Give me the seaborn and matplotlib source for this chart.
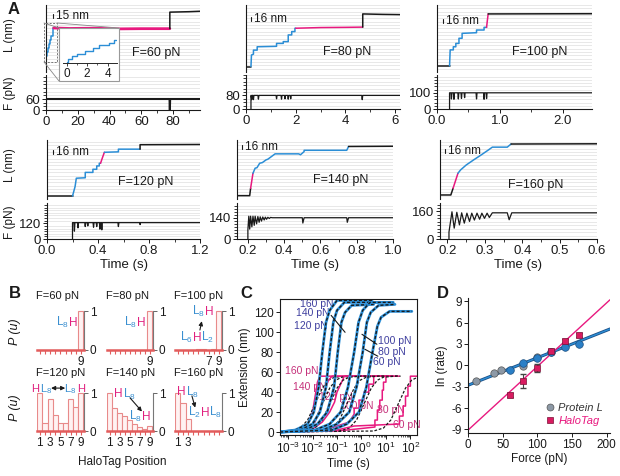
import matplotlib
matplotlib.use("Agg")
import numpy as np
import matplotlib.pyplot as plt
from matplotlib.ticker import MultipleLocator, LogLocator, NullFormatter, FormatStrFormatter
from matplotlib.patches import Rectangle
from matplotlib.lines import Line2D
from matplotlib.offsetbox import TextArea, HPacker, AnnotationBbox
import seaborn as sns

sns.set_style("ticks")
plt.rcParams["font.family"] = ["Liberation Sans", "DejaVu Sans"]
plt.rcParams["mathtext.fontset"] = "custom"
plt.rcParams["mathtext.rm"] = "Liberation Sans"
plt.rcParams["mathtext.it"] = "Liberation Sans:italic"
plt.rcParams["axes.unicode_minus"] = False

BLUE = "#2b8ed6"
PINK = "#e8197f"
INK = "#1a1a1a"
GRID = "#e4e4e4"
COL = {"k": INK, "b": BLUE, "m": PINK}

# ---------------- A: extension traces, (colour, time s, length nm) ----------------
tr60 = [
    ("k", [0, 0.05], [54, 54]),
    ("b", [0.05, 0.15, 0.15, 0.5, 0.5, 1.0, 1.0, 1.8, 1.8, 2.6, 2.6, 3.2, 3.2, 4.1, 4.1, 4.6, 4.6, 4.85],
          [54, 54, 72, 72, 90, 90, 108, 108, 126, 126, 144, 144, 162, 162, 180, 180, 197, 197]),
    ("m", [4.85, 15, 30, 45, 60, 78], [197, 195, 196, 193, 194, 194]),
    ("k", [78, 78, 90, 97], [194, 268, 270, 272]),
]
tr80 = [
    ("k", [0, 0.2], [24, 24]),
    ("b", [0.2, 0.22, 0.3, 0.3, 0.45, 0.45, 1.23, 1.23, 1.5, 1.5, 1.7, 1.7, 1.84, 1.84, 1.97, 1.97, 2.0],
          [24, 76, 80, 98, 98, 113, 115, 128, 128, 136, 136, 166, 166, 181, 181, 196, 196]),
    ("m", [2.0, 3.0, 4.0, 4.7], [196, 199, 200, 201]),
    ("k", [4.7, 4.7, 5.5, 6.2], [201, 260, 258, 257]),
]
tr100 = [
    ("k", [0, 0.2], [27, 27]),
    ("b", [0.2, 0.21, 0.26, 0.26, 0.3, 0.3, 0.35, 0.35, 0.4, 0.4, 0.63, 0.63, 0.75, 0.75, 0.79],
          [27, 99, 99, 113, 113, 128, 128, 151, 151, 173, 176, 188, 188, 200, 200]),
    ("m", [0.79, 0.8, 0.815], [200, 225, 260]),
    ("k", [0.815, 2.47], [260, 261]),
]
tr120 = [
    ("k", [0, 0.2], [13, 13]),
    ("b", [0.2, 0.22, 0.23, 0.3, 0.3, 0.36, 0.36, 0.39, 0.39, 0.41, 0.41, 0.42],
          [13, 55, 93, 95, 119, 119, 133, 133, 148, 148, 160, 160]),
    ("m", [0.42, 0.435, 0.45], [160, 185, 209]),
    ("b", [0.45, 0.56, 0.56, 0.73], [209, 211, 223, 223]),
    ("k", [0.73, 0.73, 1.2], [223, 243, 244]),
]
tr140 = [
    ("k", [0.14, 0.21, 0.215], [15, 15, 48]),
    ("m", [0.215, 0.228], [48, 115]),
    ("b", [0.228, 0.24, 0.25, 0.265, 0.28, 0.3, 0.31, 0.35, 0.48, 0.49, 0.51, 0.51, 0.745, 0.755],
          [115, 138, 140, 160, 163, 175, 178, 202, 202, 198, 212, 218, 218, 235]),
    ("k", [0.755, 1.0], [235, 236]),
]
tr160 = [
    ("k", [0.18, 0.209, 0.215], [18, 18, 48]),
    ("m", [0.215, 0.228], [48, 115]),
    ("b", [0.228, 0.235, 0.25, 0.27, 0.29, 0.31, 0.32, 0.36, 0.37], [115, 130, 152, 175, 197, 220, 232, 232, 246]),
    ("k", [0.37, 0.6], [246, 247]),
]

# force traces: onset, plateau, dips (time, depth)
f60_on, f60_level, f60_dip_t, f60_dip_v = 0, 60, [78], [0]
f80_on, f80_level = 0.2, 80
f80_dip_t = [0.23, 0.3, 0.5, 1.23, 1.43, 1.57, 1.7, 1.8, 4.68]
f80_dip_v = [55, 55, 58, 60, 58, 60, 58, 60, 55]
f100_on, f100_level = 0.2, 100
f100_dip_t = [0.23, 0.27, 0.34, 0.39, 0.44, 0.63, 0.75, 0.79]
f100_dip_v = [62, 60, 62, 65, 70, 62, 60, 64]
f120_on, f120_level = 0.2, 125
f120_dip_t = [0.215, 0.243, 0.3, 0.32, 0.365, 0.39, 0.415, 0.43, 0.56, 0.73]
f120_dip_v = [60, 85, 95, 100, 90, 95, 75, 70, 95, 110]
f140_t = [0.2, 0.2, 0.205, 0.21, 0.215, 0.222, 0.228, 0.235, 0.24, 0.248, 0.255, 0.262, 0.268, 0.275,
          0.282, 0.29, 0.296, 0.303, 0.31, 0.318, 0.325, 0.335, 0.5, 0.503, 0.51, 0.745, 0.748, 0.755, 1.0]
f140_v = [0, 60, 150, 65, 150, 80, 150, 90, 150, 100, 148, 110, 146, 118, 145, 125, 144, 130, 143, 135,
          142, 140, 140, 105, 140, 140, 110, 140, 140]
f160_t = [0.204, 0.204, 0.212, 0.218, 0.225, 0.232, 0.238, 0.245, 0.252, 0.259, 0.265, 0.272, 0.279,
          0.286, 0.292, 0.299, 0.306, 0.312, 0.32, 0.36, 0.365, 0.372, 0.6]
f160_v = [0, 40, 158, 63, 155, 82, 152, 92, 150, 102, 150, 110, 150, 115, 150, 120, 150, 125, 152, 152,
          112, 152, 152]

# ---------------- B: HaloTag position probabilities ----------------
positions = [1, 2, 3, 4, 5, 6, 7, 8, 9]
p60 = [0, 0, 0, 0, 0, 0, 0, 0, 1.0]
p80 = [0, 0, 0, 0, 0, 0, 0, 0, 1.0]
p100 = [0, 0, 0, 0, 0.02, 0.02, 0, 0.03, 1.0]
p120 = [1.0, 0.2, 0.85, 0.42, 0.2, 0.2, 0.85, 0.63, 1.0]
p140 = [1.0, 0.6, 0.47, 0.39, 0.28, 0.19, 0.1, 0.04, 0.12]
p160 = [1.0, 0.73, 0.32, 0, 0, 0, 0, 0, 0]

# ---------------- C: averaged traces (log10 time, extension nm) ----------------
pl_logt = {
    160: [-3.33, -2.7, -2.2, -1.95, -1.75, -1.6, -1.45, -1.3, -1.0, 0.43],
    140: [-3.33, -2.5, -2.0, -1.7, -1.45, -1.3, -1.15, -1.0, -0.7, 0.67],
    120: [-3.33, -2.3, -1.8, -1.4, -1.12, -0.97, -0.82, -0.67, -0.4, 0.5],
    100: [-3.33, -1.9, -1.3, -0.85, -0.55, -0.3, -0.12, 0.05, 0.35, 1.3],
    80: [-3.33, -1.6, -1.0, -0.5, -0.2, 0.05, 0.22, 0.38, 0.7, 1.37],
    60: [-3.33, -1.2, -0.6, -0.1, 0.2, 0.45, 0.65, 0.8, 1.15, 2.06],
}
pl_ext = {
    160: [0, 2, 8, 20, 45, 80, 110, 122, 132, 132],
    140: [0, 2, 8, 20, 45, 80, 110, 122, 130, 130],
    120: [0, 2, 8, 20, 45, 80, 110, 120, 127, 128],
    100: [0, 2, 8, 20, 45, 80, 110, 122, 130, 130],
    80: [0, 2, 8, 20, 45, 80, 110, 120, 127, 128],
    60: [0, 2, 8, 20, 45, 80, 106, 115, 121, 121],
}
ht_fit_ext = [0, 1, 4, 12, 28, 44, 52, 55, 56, 56]
ht_fit_logt = {
    160: [-3.33, -2.9, -2.5, -2.2, -1.9, -1.6, -1.35, -1.1, -0.6, 1.5],
    140: [-3.33, -2.6, -2.2, -1.9, -1.6, -1.3, -1.05, -0.8, -0.3, 1.5],
    120: [-3.33, -2.3, -1.9, -1.6, -1.3, -1.0, -0.75, -0.5, 0.0, 1.5],
    100: [-3.33, -1.6, -1.2, -0.9, -0.6, -0.3, -0.05, 0.2, 0.7, 1.5],
    80: [-3.33, -0.9, -0.5, -0.2, 0.1, 0.4, 0.65, 0.9, 1.4, 1.6],
    60: [-3.33, 0.5, 0.9, 1.2, 1.5, 1.8, 2.05, 2.3, 2.33, 2.33],
}
ht_logt = {
    160: [-3.33, -2.5, -2.2, -2.0, -1.9, -1.8, -1.7, 0.85],
    140: [-3.33, -2.3, -1.9, -1.7, -1.55, -1.45, -1.35, -1.2, 1.0],
    120: [-3.33, -2.0, -1.6, -1.3, -1.1, -1.0, -0.85, -0.7, 1.2],
    100: [-3.33, -1.5, -1.0, -0.5, -0.3, -0.3, -0.1, -0.1, 0.1, 0.1, 0.3, 0.3, 0.5, 0.5, 1.3],
    80: [-3.33, -1.0, -0.2, 0.55, 0.55, 0.65, 0.65, 0.75, 0.75, 0.85, 0.85, 0.9, 0.9, 1.0, 1.0, 1.55],
    60: [-3.33, -1.0, -0.3, 1.55, 1.55, 1.7, 1.7, 1.8, 1.8, 1.9, 1.9, 2.0, 2.0, 2.33],
}
ht_ext = {
    160: [0, 2, 8, 20, 35, 50, 56, 56],
    140: [0, 3, 10, 22, 35, 45, 52, 56, 56],
    120: [0, 3, 10, 20, 30, 40, 48, 56, 56],
    100: [0, 2, 6, 10, 18, 24, 24, 32, 32, 40, 40, 48, 48, 56, 56],
    80: [0, 1, 3, 5, 12, 12, 22, 22, 32, 32, 42, 42, 50, 50, 56, 56],
    60: [0, 2, 6, 8, 16, 16, 26, 26, 36, 36, 46, 46, 56, 56],
}

# ---------------- D: ln(rate) vs force ----------------
protL_gray_f = [12, 38, 47, 80, 100, 120]
protL_gray_r = [-2.2, -1.1, -0.7, -0.1, 1.2, 1.9]
protL_f = [60, 80, 100, 120, 140, 160]
protL_r = [-0.6, 0.3, 1.0, 1.9, 2.6, 3.0]
halo_f = [60, 80, 100, 120, 140, 160]
halo_r = [-4.2, -2.2, -0.4, 2.0, 3.4, 4.3]
halo_err = [0.3, 1.0, 0.6, 0.3, 0.3, 0.3]
protL_fit_f, protL_fit_r = [0, 205], [-2.8, 5.1]
halo_fit_f, halo_fit_r = [0, 205], [-9.1, 9.2]

# ---------------- figure ----------------
W, H = 620, 476
fig = plt.figure(figsize=(6.2, 4.76), dpi=100)


def box(l, t, r, b):
    return [l / W, 1 - b / H, (r - l) / W, (b - t) / H]


def ftext(x, y, s, **kw):
    return fig.text(x / W, 1 - y / H, s, **kw)


def fline(xs, ys, **kw):
    fig.add_artist(Line2D([x / W for x in xs], [1 - y / H for y in ys], transform=fig.transFigure, **kw))


def line(ax, x, y, **kw):
    sns.lineplot(x=x, y=y, ax=ax, estimator=None, sort=False, errorbar=None, **kw)


def force_vertices(t_on, level, dip_t, dip_v, t_end, w):
    t, v = [t_on, t_on], [0, level]
    for td, vd in zip(dip_t, dip_v):
        t += [td - w, td, td + w]
        v += [level, vd, level]
    return t + [t_end], v + [level]


panelsA = [
    dict(tr=tr60, F=force_vertices(f60_on, f60_level, f60_dip_t, f60_dip_v, 97, 0.2), Fl=60,
         L=(46, 5, 200, 72), Fb=(46, 75, 200, 110), xlim=(0, 97), Lmax=300, Fmax=191,
         maj=20, mnr=10, fmt="%d", bar=(53, 16), lab="15 nm", ft=(132, 53), lw=1.5),
    dict(tr=tr80, F=force_vertices(f80_on, f80_level, f80_dip_t, f80_dip_v, 6.2, 0.02), Fl=80,
         L=(246, 5, 400, 72), Fb=(246, 75, 400, 109), xlim=(0, 6.2), Lmax=300, Fmax=200,
         maj=2, mnr=1, fmt="%d", bar=(251, 19), lab="16 nm", ft=(323, 52), lw=0.9),
    dict(tr=tr100, F=force_vertices(f100_on, f100_level, f100_dip_t, f100_dip_v, 2.47, 0.008), Fl=100,
         L=(437, 5, 592, 72), Fb=(437, 75, 592, 109), xlim=(0, 2.47), Lmax=300, Fmax=210,
         maj=1, mnr=0.5, fmt="%.1f", bar=(443, 21), lab="16 nm", ft=(512, 52), lw=0.9),
    dict(tr=tr120, F=force_vertices(f120_on, f120_level, f120_dip_t, f120_dip_v, 1.2, 0.004), Fl=120,
         L=(47, 140, 200, 199), Fb=(47, 203, 200, 239), xlim=(0, 1.2), Lmax=264, Fmax=275,
         maj=0.4, mnr=0.2, fmt="%.1f", bar=(53, 152), lab="16 nm", ft=(118, 182), lw=0.9),
    dict(tr=tr140, F=(f140_t, f140_v), Fl=140,
         L=(237, 140, 393, 199), Fb=(237, 203, 393, 239), xlim=(0.14, 1.0), Lmax=264, Fmax=237,
         maj=0.2, mnr=0.1, fmt="%.1f", bar=(242, 147), lab="16 nm", ft=(313, 180), lw=0.9),
    dict(tr=tr160, F=(f160_t, f160_v), Fl=160,
         L=(440, 140, 597, 199), Fb=(440, 203, 597, 239), xlim=(0.18, 0.6), Lmax=264, Fmax=209,
         maj=0.1, mnr=0.05, fmt="%.1f", bar=(445, 151), lab="16 nm", ft=(508, 185), lw=0.9),
]

for i, p in enumerate(panelsA):
    axL = fig.add_axes(box(*p["L"]))
    for c, t, L in p["tr"]:
        line(axL, t, L, color=COL[c], lw=2.0 if (i == 0 and c == "m") else 1.1)
    axL.set_xlim(*p["xlim"])
    axL.set_ylim(0, p["Lmax"])
    axL.set_yticks([])
    axL.set_xticks([])
    axL.yaxis.set_minor_locator(MultipleLocator(15))
    axL.tick_params(which="both", left=False, bottom=False)
    axL.grid(which="minor", axis="y", color=GRID, lw=0.6)
    axL.set_axisbelow(True)
    for s in ["top", "right", "bottom"]:
        axL.spines[s].set_visible(False)
    axL.spines["left"].set_color(INK)
    axL.spines["left"].set_linewidth(0.8)

    axF = fig.add_axes(box(*p["Fb"]))
    line(axF, p["F"][0], p["F"][1], color=INK, lw=p["lw"])
    axF.set_xlim(*p["xlim"])
    axF.set_ylim(0, p["Fmax"])
    axF.set_yticks([0, p["Fl"]])
    axF.yaxis.set_minor_locator(MultipleLocator(20))
    axF.xaxis.set_major_locator(MultipleLocator(p["maj"]))
    axF.xaxis.set_minor_locator(MultipleLocator(p["mnr"]))
    axF.xaxis.set_major_formatter(FormatStrFormatter(p["fmt"]))
    axF.grid(which="minor", axis="y", color=GRID, lw=0.6)
    axF.set_axisbelow(True)
    axF.tick_params(which="major", labelsize=9.5, length=3, width=0.7, pad=1.5, colors=INK)
    axF.tick_params(which="minor", length=2, width=0.6, colors=INK)
    sns.despine(ax=axF)
    for s in ["left", "bottom"]:
        axF.spines[s].set_color(INK)
        axF.spines[s].set_linewidth(0.8)
    if i >= 3:
        axF.set_xlabel("Time (s)", fontsize=9.5, labelpad=1, color=INK)

    bx, by = p["bar"]
    fline([bx, bx], [by - 1.8, by + 1.8], color=INK, lw=0.8)
    ftext(bx + 3, by, p["lab"], fontsize=8.5, va="center", ha="left", color=INK)
    ftext(p["ft"][0], p["ft"][1], "F=%d pN" % p["Fl"], fontsize=9, va="center", ha="left", color=INK)

    if i == 0:
        # zoom inset of the Protein L staircase
        fig.add_artist(Rectangle((44 / W, 1 - 62 / H), 13 / W, 39 / H, transform=fig.transFigure,
                                 fill=False, ec="#777777", lw=0.7, ls=(0, (2, 1.5)), zorder=4))
        fig.add_artist(Rectangle((59 / W, 1 - 81 / H), 60 / W, 53 / H, transform=fig.transFigure,
                                 fc="white", ec="#999999", lw=0.8, zorder=4))
        fline([57, 119], [23, 28], color="#888888", lw=0.6, zorder=4)
        fline([44, 59], [23, 28], color="#888888", lw=0.6, zorder=4)
        fline([44, 59], [62, 81], color="#888888", lw=0.6, zorder=4)
        axI = fig.add_axes(box(63, 31, 117, 63), zorder=5)
        axI.patch.set_alpha(0)
        line(axI, tr60[1][1], tr60[1][2], color=BLUE, lw=1.0)
        axI.set_xlim(-0.36, 4.93)
        axI.set_ylim(46, 257)
        axI.set_yticks([])
        axI.set_xticks([0, 2, 4])
        axI.xaxis.set_minor_locator(MultipleLocator(1))
        axI.tick_params(which="major", labelsize=8.5, length=2.5, width=0.6, pad=1, colors=INK)
        axI.tick_params(which="minor", length=1.5, width=0.5, colors=INK)
        for s in ["top", "right", "left"]:
            axI.spines[s].set_visible(False)
        axI.spines["bottom"].set_linewidth(0.7)

ftext(10, 35, "L (nm)", rotation=90, fontsize=8.5, ha="center", va="center", color=INK)
ftext(10, 93, "F (pN)", rotation=90, fontsize=8.5, ha="center", va="center", color=INK)
ftext(10, 165, "L (nm)", rotation=90, fontsize=8.5, ha="center", va="center", color=INK)
ftext(10, 222, "F (pN)", rotation=90, fontsize=8.5, ha="center", va="center", color=INK)

# ---------------- B ----------------
LB, HM = "#3a8fd0", "#e0207f"


def clabel(ax, x, y, parts, size=8.5):
    kids = [TextArea(s, textprops=dict(color=c, fontsize=size)) for s, c in parts]
    pack = HPacker(children=kids, align="baseline", pad=0, sep=0)
    ax.add_artist(AnnotationBbox(pack, (x, y), xycoords="axes fraction", frameon=False,
                                 box_alignment=(0.5, 0.5), annotation_clip=False))


def arrow(ax, xy, xytext, style="-|>"):
    ax.annotate("", xy=xy, xytext=xytext, xycoords="axes fraction", textcoords="axes fraction",
                arrowprops=dict(arrowstyle=style, color=INK, lw=0.8, mutation_scale=6,
                                shrinkA=0, shrinkB=0), annotation_clip=False)


L8H = [("L$_8$", LB), ("H", HM)]
HL8 = [("H", HM), ("L$_8$", LB)]
B_cols = [(37, 84), (107, 153), (175, 222)]
B_rows = [(310, 350), (392, 431)]
B_data = [p60, p80, p100, p120, p140, p160]
B_forces = [60, 80, 100, 120, 140, 160]
B_labels = [["", "", "", "", "", "", "", "", "9"], ["", "", "", "", "", "", "", "", "9"],
            ["", "", "", "", "", "", "7", "", "9"], ["1", "", "3", "", "5", "", "7", "", "9"],
            ["1", "", "3", "", "5", "", "7", "", "9"], ["1", "", "3", "", "", "", "", "", ""]]
B_title_y = [296, 296, 296, 373, 373, 373]
for k in range(6):
    r, c = divmod(k, 3)
    l, rr = B_cols[c]
    t, b = B_rows[r]
    ax = fig.add_axes(box(l, t, rr, b))
    sns.barplot(x=positions, y=B_data[k], ax=ax, native_scale=True, width=1, color="#fff2f2",
                saturation=1, edgecolor="#e88a8a", linewidth=0.8, errorbar=None)
    ax.set_xlim(0.45, 9.6)
    ax.set_ylim(0, 1.03)
    ax.set_xlabel("")
    ax.set_ylabel("")
    ax.yaxis.tick_right()
    ax.set_yticks([0, 1])
    ax.set_xticks(positions)
    ax.set_xticklabels(B_labels[k])
    ax.tick_params(axis="y", labelsize=8.5, length=3, width=0.7, pad=1, colors="#666666", labelcolor=INK)
    ax.tick_params(axis="x", labelsize=8.5, length=3, width=0.8, pad=1, colors="#e25c5c", labelcolor=INK)
    for s in ["top", "left"]:
        ax.spines[s].set_visible(False)
    ax.spines["right"].set_color("#777777")
    ax.spines["right"].set_linewidth(0.8)
    ax.spines["right"].set_bounds(0, 1)
    ax.spines["bottom"].set_color("#e25c5c")
    ax.spines["bottom"].set_linewidth(1.8)
    ftext(l - 1, B_title_y[k], "F=%d pN" % B_forces[k], fontsize=8, ha="left", va="center", color=INK)
    if k == 0:
        clabel(ax, 0.64, 0.69, L8H)
    elif k == 1:
        clabel(ax, 0.61, 0.69, L8H)
    elif k == 2:
        clabel(ax, 0.6, 0.97, L8H)
        clabel(ax, 0.47, 0.31, [("L$_6$", LB), ("H", HM), ("L$_2$", LB)])
        arrow(ax, (0.57, 0.72), (0.53, 0.5))
    elif k == 3:
        clabel(ax, 0.1, 1.08, HL8, size=8)
        clabel(ax, 0.8, 1.08, L8H, size=8)
        arrow(ax, (0.6, 1.1), (0.3, 1.1), style="<|-|>")
    elif k == 4:
        clabel(ax, 0.39, 0.95, HL8)
        clabel(ax, 0.72, 0.37, L8H)
        arrow(ax, (0.76, 0.5), (0.5, 0.85))
    else:
        clabel(ax, 0.28, 1.0, HL8)
        clabel(ax, 0.64, 0.47, [("L$_2$", LB), ("H", HM), ("L$_8$", LB)])
        arrow(ax, (0.43, 0.6), (0.36, 0.9))

ftext(15, 332, "P (u)", rotation=90, fontsize=9, style="italic", ha="center", va="center", color=INK)
ftext(15, 408, "P (u)", rotation=90, fontsize=9, style="italic", ha="center", va="center", color=INK)
ftext(122, 462, "HaloTag Position", fontsize=8.5, ha="center", va="center", color=INK)

# ---------------- C ----------------
axC = fig.add_axes(box(280, 299, 417, 435))
for f in [160, 140, 120, 100, 80, 60]:
    line(axC, np.power(10.0, ht_logt[f]), ht_ext[f], color=PINK, lw=1.1)
    line(axC, np.power(10.0, ht_fit_logt[f]), ht_fit_ext, color=INK, lw=0.9, linestyle=(0, (2.2, 1.4)))
for f in [160, 140, 120, 100, 80, 60]:
    line(axC, np.power(10.0, pl_logt[f]), pl_ext[f], color=BLUE, lw=2.0)
    line(axC, np.power(10.0, pl_logt[f]), pl_ext[f], color=INK, lw=1.0, linestyle=(0, (2.2, 1.4)))
axC.set_xscale("log")
axC.set_xlim(10 ** -3.33, 10 ** 2.27)
axC.set_ylim(-3, 133.4)
axC.set_yticks([0, 20, 40, 60, 80, 100, 120])
axC.xaxis.set_major_locator(LogLocator(base=10, numticks=10))
axC.xaxis.set_minor_locator(LogLocator(base=10, subs=np.arange(2, 10), numticks=10))
axC.xaxis.set_minor_formatter(NullFormatter())
axC.tick_params(which="major", labelsize=8.5, length=3, width=0.7, pad=1.5, colors=INK)
axC.tick_params(which="minor", length=1.5, width=0.5, colors=INK)
for s in axC.spines.values():
    s.set_linewidth(0.8)
    s.set_color(INK)
axC.set_ylabel("Extension (nm)", fontsize=8.5, labelpad=2, color=INK)
axC.set_xlabel("Time (s)", fontsize=8.5, labelpad=1, color=INK)
CB, CM = "#3f3f9f", "#c5307a"
for s, lt, ext in [("160 pN", -1.16, 128), ("140 pN", -1.29, 119), ("120 pN", -1.37, 106)]:
    axC.text(10 ** lt, ext, s, fontsize=7.5, color=CB, ha="right", va="center", zorder=1)
for s, lt, ext in [("100 pN", 0.67, 91), ("80 pN", 0.67, 80), ("60 pN", 0.47, 70)]:
    axC.text(10 ** lt, ext, s, fontsize=7.5, color=CB, ha="left", va="center", zorder=1)
for s, lt, ext in [("160 pN", -3.12, 61), ("140 pN", -2.8, 45), ("120 pN", -1.73, 35),
                   ("100 pN", -0.88, 26), ("80 pN", 0.63, 22), ("60 pN", 1.29, 7)]:
    axC.text(10 ** lt, ext, s, fontsize=7.5, color=CM, ha="left", va="center", zorder=1)
axC.plot([10 ** -1.24, 10 ** -0.67], [117, 100], color=INK, lw=0.8)
axC.plot([10 ** 0.02, 10 ** 0.63], [98, 88], color=INK, lw=0.8)
axC.plot([10 ** 0.14, 10 ** 0.67], [83, 76], color=INK, lw=0.8)

# ---------------- D ----------------
axD = fig.add_axes(box(468, 298, 610, 433))
line(axD, protL_fit_f, protL_fit_r, color="#1d4f86", lw=2.2)
line(axD, protL_fit_f, protL_fit_r, color="#2c8fd6", lw=1.0)
line(axD, halo_fit_f, halo_fit_r, color=PINK, lw=1.0)
axD.errorbar(halo_f, halo_r, yerr=halo_err, fmt="none", ecolor="#444444", elinewidth=0.8, capsize=2, zorder=3)
sns.scatterplot(x=protL_gray_f, y=protL_gray_r, ax=axD, color="#8d99a6", edgecolor="#555555",
                s=28, linewidth=0.5, zorder=4)
sns.scatterplot(x=protL_f, y=protL_r, ax=axD, color="#2a7fc6", edgecolor="#1b4f80",
                s=30, linewidth=0.5, zorder=5)
sns.scatterplot(x=halo_f, y=halo_r, ax=axD, color="#d81b60", edgecolor="#7a1035", marker="s",
                s=22, linewidth=0.5, zorder=6)
axD.set_xlim(0, 205)
axD.set_ylim(-9.5, 9.45)
axD.set_yticks([-9, -6, -3, 0, 3, 6, 9])
axD.set_xticks([0, 50, 100, 150, 200])
axD.tick_params(labelsize=8.5, length=3, width=0.7, pad=1.5, colors=INK)
sns.despine(ax=axD)
for s in ["left", "bottom"]:
    axD.spines[s].set_linewidth(0.8)
    axD.spines[s].set_color(INK)
axD.set_ylabel("ln (rate)", fontsize=8.5, labelpad=2, color=INK)
axD.set_xlabel("Force (pN)", fontsize=8.5, labelpad=1, color=INK)
handles = [Line2D([], [], ls="", marker="o", ms=5, mfc="#8d99a6", mec="#555555", mew=0.5),
           Line2D([], [], ls="", marker="s", ms=4.5, mfc="#d81b60", mec="#7a1035", mew=0.5)]
axD.legend(handles, ["Protein L", "HaloTag"], loc="lower right", frameon=False,
           prop=dict(style="italic", size=8), labelcolor=["#333333", PINK],
           handletextpad=0.3, handlelength=1.0, borderaxespad=0.2, labelspacing=0.3)

# panel letters
for s, x, y in [("A", 14, 9), ("B", 15, 294), ("C", 246, 294), ("D", 443, 294)]:
    ftext(x, y, s, fontsize=12, fontweight="bold", ha="center", va="center", color=INK)

fig.savefig("out.png", dpi=100)
